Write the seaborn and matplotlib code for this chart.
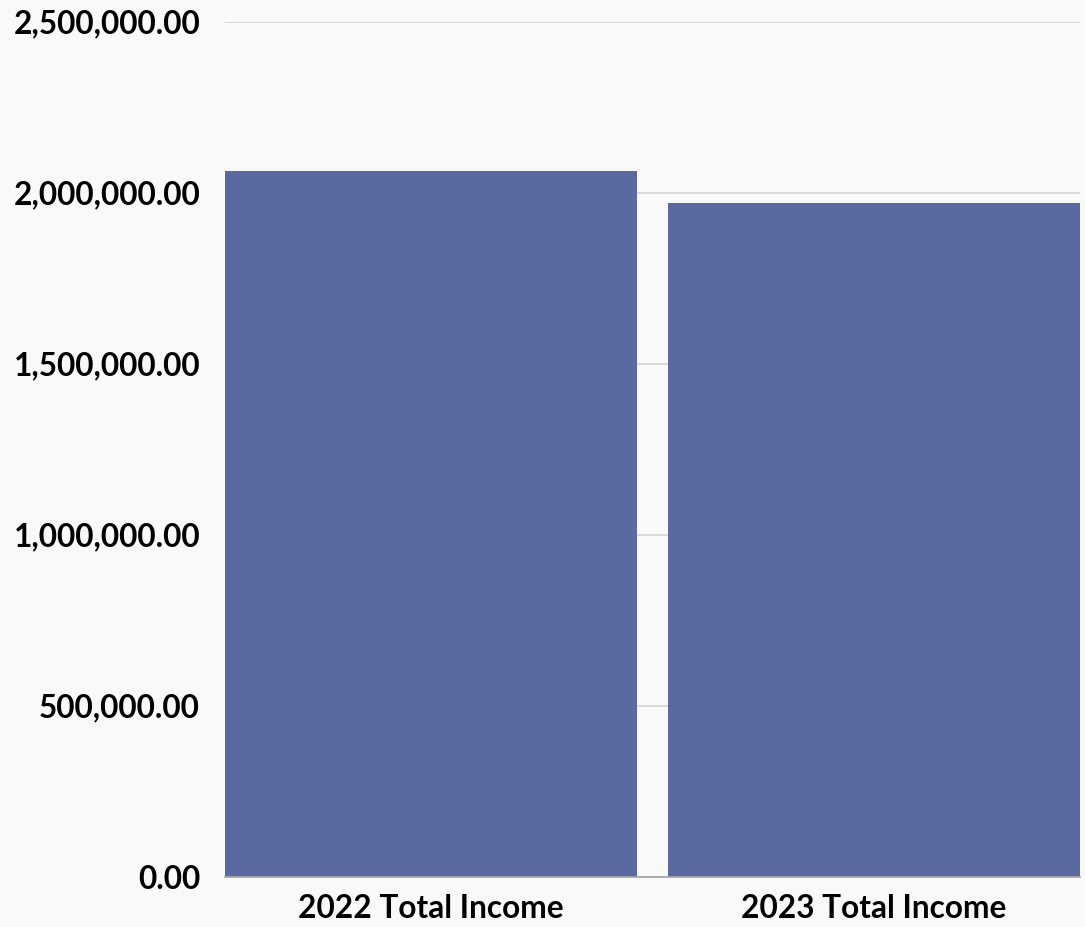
import matplotlib
matplotlib.use("Agg")
import matplotlib.pyplot as plt
import seaborn as sns
import pandas as pd
from matplotlib.ticker import FuncFormatter

categories = ["2022 Total Income", "2023 Total Income"]
income = [2063000, 1970000]
y_ticks = [0, 500000, 1000000, 1500000, 2000000, 2500000]

df = pd.DataFrame({"label": categories, "income": income})

sns.set_theme(style="white")
plt.rcParams["font.family"] = ["Lato", "DejaVu Sans"]

fig = plt.figure(figsize=(10.85, 9.27), dpi=100)
fig.patch.set_facecolor("#f9f9f9")
ax = fig.add_axes([0.2074, 0.0543, 0.788, 0.9225])
ax.set_facecolor("#f9f9f9")

bw = 0.93
sns.barplot(data=df, x="label", y="income", color="#5a6aa0", saturation=1,
            width=bw, linewidth=0, ax=ax, zorder=2)

ax.set_xlim(-bw / 2, 1 + bw / 2)
ax.set_ylim(0, 2500000)
ax.set_yticks(y_ticks)
ax.yaxis.set_major_formatter(FuncFormatter(lambda v, p: f"{v:,.2f}"))
ax.grid(axis="y", color="#d6d6d6", linewidth=1.3, zorder=0)
ax.set_axisbelow(True)

for s in ["top", "right", "left"]:
    ax.spines[s].set_visible(False)
ax.spines["bottom"].set_color("#a8a8a8")
ax.spines["bottom"].set_linewidth(1.3)
ax.spines["bottom"].set_zorder(3)

ax.tick_params(axis="both", length=0, labelsize=22.8, colors="#000000")
ax.tick_params(axis="y", pad=18)
ax.tick_params(axis="x", pad=12.5)
for t in ax.get_yticklabels() + ax.get_xticklabels():
    t.set_fontweight("bold")
ax.set_xlabel("")
ax.set_ylabel("")

fig.savefig("out.png", dpi=100, facecolor=fig.get_facecolor())
